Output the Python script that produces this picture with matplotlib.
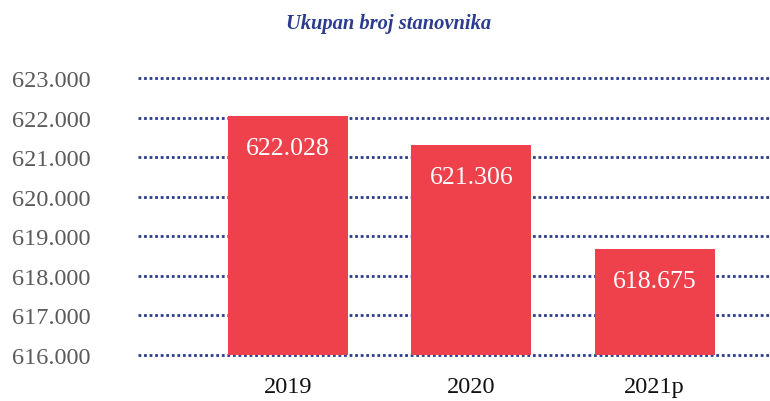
import matplotlib.pyplot as plt

years = ['2019', '2020', '2021p']
population = [622.028, 621.306, 618.675]
value_labels = ['622.028', '621.306', '618.675']
y_ticks = [616, 617, 618, 619, 620, 621, 622, 623]
y_tick_labels = ['616.000', '617.000', '618.000', '619.000',
                 '620.000', '621.000', '622.000', '623.000']

plt.rcParams['font.family'] = ['Liberation Serif', 'DejaVu Serif']

fig = plt.figure(figsize=(7.7, 4.02), dpi=100)
ax = fig.add_axes([138 / 770, 44 / 402, 632 / 770, 281 / 402])

x = range(len(years))
base = 616
ax.bar(x, [p - base for p in population], bottom=base, width=0.656,
       color='#ee414b', zorder=2)

for i, (p, lab) in enumerate(zip(population, value_labels)):
    ax.text(i, p - 0.8, lab, ha='center', va='center', color='white',
            fontsize=18.5, zorder=3)

ax.set_ylim(615.95, 623.05)
ax.set_xlim(-0.82, 2.63)
ax.set_yticks(y_ticks)
ax.set_yticklabels(y_tick_labels, fontsize=17.5, color='#5a5a5a')
ax.set_xticks(list(x))
ax.set_xticklabels(years, fontsize=17.5, color='#111111')
ax.tick_params(axis='y', length=0, pad=34)
ax.tick_params(axis='x', length=0, pad=14)

ax.grid(axis='y', color='#2b3c8e', linestyle=(0, (1, 1)), linewidth=2,
        zorder=1)
ax.set_axisbelow(True)
for s in ax.spines.values():
    s.set_visible(False)

fig.text(0.505, 0.94, 'Ukupan broj stanovnika', ha='center', va='center',
         color='#2b3c8e', fontsize=14.8, fontweight='bold', fontstyle='italic')

plt.savefig('out.png', dpi=100)
